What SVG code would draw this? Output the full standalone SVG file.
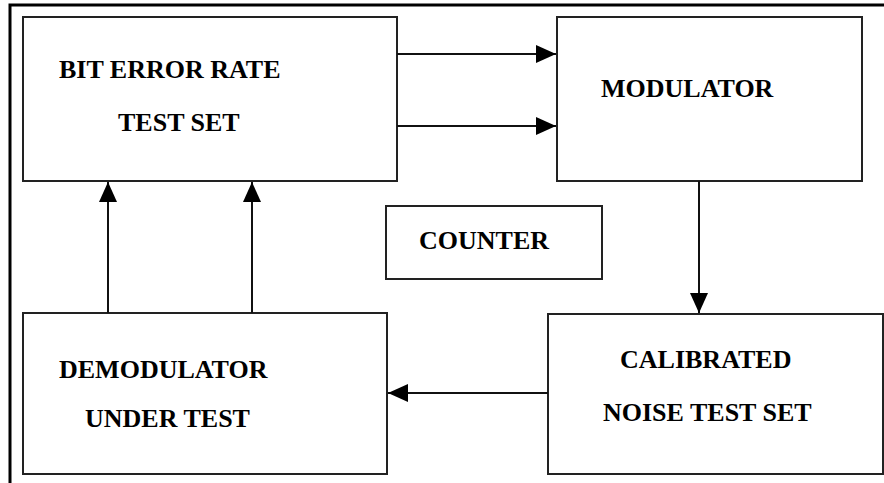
<svg xmlns="http://www.w3.org/2000/svg" width="884" height="483" viewBox="0 0 884 483">
<style>
.box{fill:#fff;stroke:#222;stroke-width:2}
.lbl{font-family:"Liberation Serif","Times New Roman",serif;font-weight:bold;font-size:26px;fill:#000}
.con{stroke:#111;stroke-width:2;fill:none}
</style>
<defs>
<marker id="ah" viewBox="0 0 20 18" refX="20" refY="9" markerWidth="20" markerHeight="18" markerUnits="userSpaceOnUse" orient="auto">
<path d="M0,0 L20,9 L0,18 Z" fill="#000"/>
</marker>
</defs>
<rect width="884" height="483" fill="#fff"/>
<path d="M10,483 V5 H884" fill="none" stroke="#000" stroke-width="3"/>
<g id="ber">
<rect class="box" x="23" y="17" width="374" height="164"/>
<text class="lbl" x="59" y="78">BIT ERROR RATE</text>
<text class="lbl" x="118" y="131">TEST SET</text>
</g>
<g id="modulator">
<rect class="box" x="557" y="17" width="305" height="164"/>
<text class="lbl" x="601" y="97">MODULATOR</text>
</g>
<g id="counter">
<rect class="box" x="386" y="206" width="216" height="73"/>
<text class="lbl" x="419" y="249">COUNTER</text>
</g>
<g id="demodulator">
<rect class="box" x="23" y="313" width="364" height="161"/>
<text class="lbl" x="59" y="378">DEMODULATOR</text>
<text class="lbl" x="85" y="427">UNDER TEST</text>
</g>
<g id="noise">
<rect class="box" x="548" y="314" width="335" height="160"/>
<text class="lbl" x="620" y="368">CALIBRATED</text>
<text class="lbl" x="603" y="421">NOISE TEST SET</text>
</g>
<g id="connectors">
<line class="con" x1="397" y1="54" x2="556" y2="54" marker-end="url(#ah)"/>
<line class="con" x1="397" y1="126" x2="556" y2="126" marker-end="url(#ah)"/>
<line class="con" x1="699" y1="181" x2="699" y2="313" marker-end="url(#ah)"/>
<line class="con" x1="548" y1="393" x2="388" y2="393" marker-end="url(#ah)"/>
<line class="con" x1="108" y1="313" x2="108" y2="182" marker-end="url(#ah)"/>
<line class="con" x1="252" y1="313" x2="252" y2="182" marker-end="url(#ah)"/>
</g>
</svg>
